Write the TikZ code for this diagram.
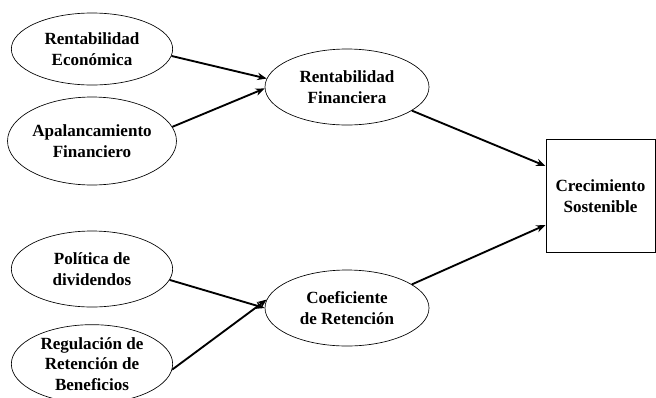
\documentclass[tikz,border=0pt]{standalone}
\usepackage{fontspec}
\setmainfont{Liberation Serif}
\usetikzlibrary{arrows.meta, shapes.geometric}

\begin{document}
\begin{tikzpicture}[
		x=0.75pt, y=-0.75pt,
		font=\fontsize{12.8}{15.5}\selectfont\bfseries,
		>={Stealth[length=7pt, width=5.5pt]},
		factor node/.style={draw, ellipse, line width=0.5pt, inner sep=0pt, minimum width=121pt, minimum height=57pt, align=center},
		goal node/.style={draw, rectangle, line width=0.5pt, minimum width=82pt, minimum height=85pt, align=center},
		link/.style={->, line width=1.4pt}
		]
		
		\useasboundingbox (0,0) rectangle (656,397);
		
		% ==========================================
		% 1. RENTABILIDAD
		% ==========================================
		
		\node[factor node, minimum height=54pt] (eco) at (92,49) {Rentabilidad\\Económica};
		\node[factor node, minimum height=66pt] (apal) at (92,141) {Apalancamiento\\Financiero};
		\node[factor node, minimum width=123pt] (fin) at (347,87) {Rentabilidad\\Financiera};
		
		\draw[link] (eco.-5) -- (fin.174);
		\draw[link] (apal.10) -- (fin.181);
		
		% ==========================================
		% 2. RETENCION
		% ==========================================
		
		\node[factor node] (pol) at (92,269) {Política de\\dividendos};
		\node[factor node, minimum height=59pt] (reg) at (92,364) {Regulación de\\Retención de\\Beneficios};
		\node[factor node, minimum width=123pt] (ret) at (347,308) {Coeficiente\\de Retención};
		
		\draw[link] (pol.-8) -- (ret.180);
		\draw[link] (reg.-4) -- (ret.174);
		
		% ==========================================
		% 3. CRECIMIENTO
		% ==========================================
		
		\node[goal node] (crec) at (600.5,196) {Crecimiento\\Sostenible};
		
		\draw[link] (fin.-20) -- (crec.north west |- 0,166);
		\draw[link] (ret.20) -- (crec.west |- 0,225);
		
	\end{tikzpicture}
\end{document}
